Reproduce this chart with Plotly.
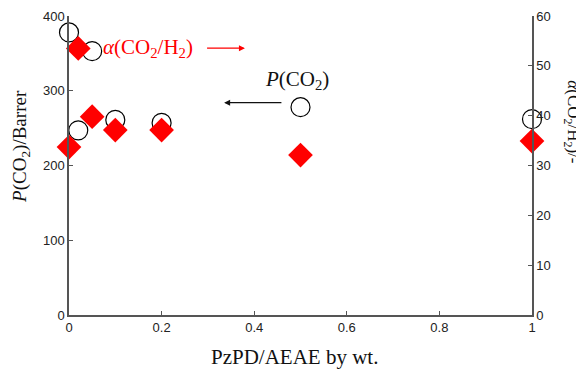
import plotly.graph_objects as go

ratio_p = [0, 0.02, 0.05, 0.1, 0.2, 0.5, 1.0]
perm_co2 = [378, 247, 353, 261, 257, 278, 262]
ratio_a = [0, 0.02, 0.05, 0.1, 0.2, 0.5, 1.0]
alpha_sel = [33.7, 53.5, 39.8, 37.1, 37.1, 32.1, 34.9]

x_ticks = [0, 0.2, 0.4, 0.6, 0.8, 1]
x_tick_labels = ["0", "0.2", "0.4", "0.6", "0.8", "1"]

fig = go.Figure()
fig.add_trace(go.Scatter(x=ratio_p, y=perm_co2, mode="markers",
                         marker=dict(symbol="circle", size=19, color="white",
                                     line=dict(color="black", width=1.2)),
                         yaxis="y", showlegend=False, cliponaxis=False))
fig.add_trace(go.Scatter(x=ratio_a, y=alpha_sel, mode="markers",
                         marker=dict(symbol="diamond", size=19, color="#ff0000",
                                     line=dict(width=0)),
                         yaxis="y2", showlegend=False, cliponaxis=False))

axis_col = "#555555"
tickfont = dict(family="Liberation Sans, Arial", size=13, color="#222")
serif = "Liberation Serif, Times New Roman"

common = dict(showgrid=False, zeroline=False, showline=True, linecolor=axis_col,
              linewidth=1.5, ticks="inside", ticklen=4, tickcolor=axis_col,
              tickfont=tickfont, automargin=False)

fig.update_layout(
    width=576, height=366,
    margin=dict(l=61, r=52, t=8, b=59),
    plot_bgcolor="white", paper_bgcolor="white",
    xaxis=dict(range=[0, 1], tickvals=x_ticks, ticktext=x_tick_labels, **common),
    yaxis=dict(range=[0, 400], dtick=100, **common),
    yaxis2=dict(range=[0, 60], dtick=10, overlaying="y", side="right", **common),
)

# axis titles
fig.add_annotation(x=0.488, y=-0.14, xref="paper", yref="paper", xanchor="center", yanchor="middle",
                   text="PzPD/AEAE by wt.", showarrow=False,
                   font=dict(family=serif, size=21, color="#111"))
fig.add_annotation(x=-0.104, y=0.565, xref="paper", yref="paper", xanchor="center", yanchor="middle",
                   text="<i>P</i>(CO<sub>2</sub>)/Barrer", textangle=-90, showarrow=False,
                   font=dict(family=serif, size=19, color="#111"))
fig.add_annotation(x=1.086, y=0.645, xref="paper", yref="paper", xanchor="center", yanchor="middle",
                   text="<i>α</i>(CO<sub>2</sub>/H<sub>2</sub>)/-", textangle=90, showarrow=False,
                   font=dict(family=serif, size=17, color="#111"))

fig.add_annotation(x=0.171, y=357, xref="x", yref="y", text="<i>α</i>(CO<sub>2</sub>/H<sub>2</sub>)",
                   showarrow=False, font=dict(family=serif, size=21, color="#ff0000"))
fig.add_annotation(x=0.38, y=357, ax=0.295, ay=357, xref="x", yref="y", axref="x", ayref="y",
                   text="", showarrow=True, arrowhead=2, arrowsize=1, arrowwidth=1.2,
                   arrowcolor="#ff0000")
fig.add_annotation(x=0.493, y=314, xref="x", yref="y", text="<i>P</i>(CO<sub>2</sub>)",
                   showarrow=False, font=dict(family=serif, size=21, color="#111"))
fig.add_annotation(x=0.335, y=284, ax=0.462, ay=284, xref="x", yref="y", axref="x", ayref="y",
                   text="", showarrow=True, arrowhead=2, arrowsize=1, arrowwidth=1.2,
                   arrowcolor="#111")

fig.write_html("out.html")
